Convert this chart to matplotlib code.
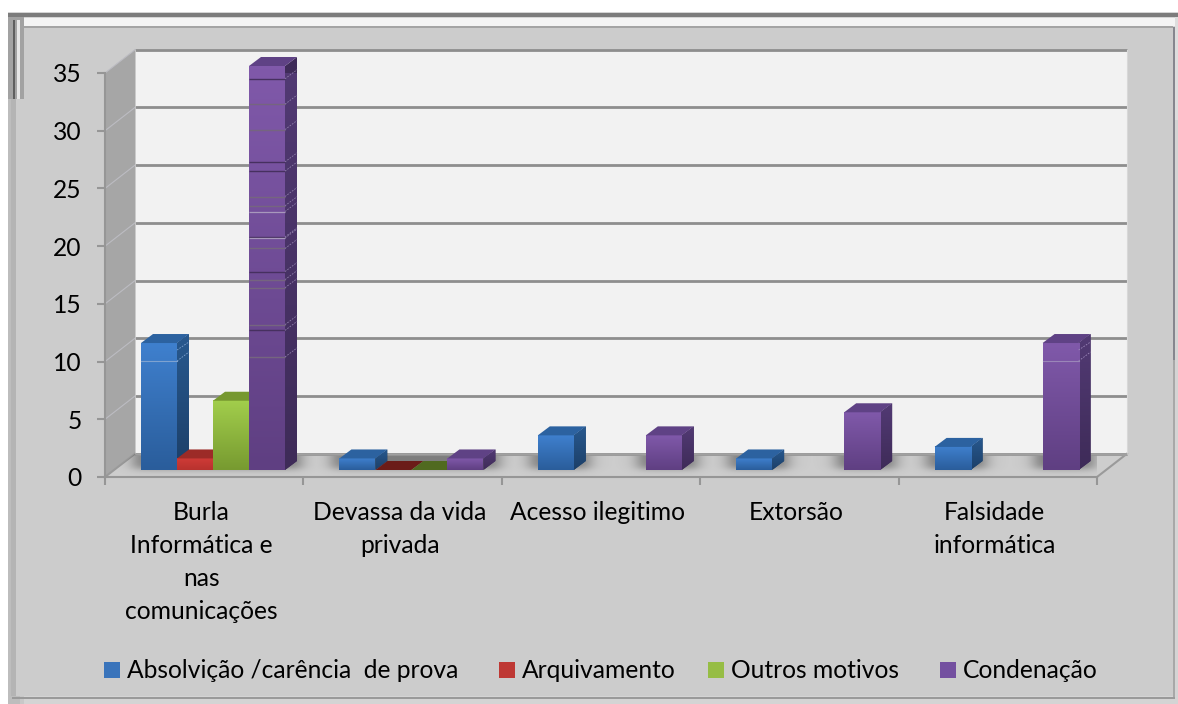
import numpy as np
import matplotlib
matplotlib.use("Agg")
import matplotlib.pyplot as plt
from matplotlib.colors import to_rgb, LinearSegmentedColormap
from matplotlib.patches import Rectangle, Patch
from matplotlib.transforms import ScaledTranslation

# ---------- data ----------
categories = ["Burla\nInformática e\nnas\ncomunicações", "Devassa da vida\nprivada",
              "Acesso ilegitimo", "Extorsão", "Falsidade\ninformática"]
absolvicao = [11, 1, 3, 1, 2]
arquivamento = [1, 0, np.nan, np.nan, np.nan]
outros = [6, 0, np.nan, np.nan, np.nan]
condenacao = [35, 1, 3, 5, 11]
series_names = ["Absolvição /carência  de prova", "Arquivamento", "Outros motivos", "Condenação"]
y_ticks = [0, 5, 10, 15, 20, 25, 30, 35]
# scan artefacts seen across the tall purple bar (value units)
purple_dark = [34.5, 27.3, 26.5, 20.8, 17.8, 12.7]
purple_mid = [32.3, 30.1, 24.3, 23.5, 19.8, 17.1, 16.4, 13.2, 10.4]
purple_light = [23.0, 20.7]

# ---------- style ----------
W, H = 1178, 704
PX = 198.4            # pixels per category
PY = 11.54            # pixels per unit
FONT = "Lato"
FS = 17.7
plt.rcParams["font.family"] = [FONT, "DejaVu Sans"]
styles = [
    dict(front=("#3f80ce", "#2a5d9b"), side=("#28598f", "#1c3f68"), top="#2c62a0", zero="#2c62a0", key="#3a74bb"),
    dict(front=("#cf3b37", "#b8322e"), side=("#8a2522", "#7a1f1c"), top="#9c2b27", zero="#6b1c18", key="#be3834"),
    dict(front=("#a2ce4c", "#779a30"), side=("#6f8f2c", "#5c7a24"), top="#76982f", zero="#506a20", key="#96bd45"),
    dict(front=("#8059aa", "#5f3f82"), side=("#523a74", "#3e2b58"), top="#5f4285", zero="#5f4285", key="#7450a0"),
]
LINE = "#8e8e8e"

fig = plt.figure(figsize=(W / 100, H / 100), dpi=100, facecolor="white")


def frame_rect(x0, y0, x1, y1, color):
    fig.add_artist(Rectangle((x0 / W, 1 - y1 / H), (x1 - x0) / W, (y1 - y0) / H,
                             transform=fig.transFigure, facecolor=color, edgecolor="none", zorder=-10))


# bevelled picture frame
frame_rect(8, 12, 1178, 704, "#d4d4d4")
frame_rect(8, 13, 1178, 17, "#7c7c7c")
frame_rect(8, 18, 1178, 26, "#f4f4f4")
frame_rect(8, 17, 24, 99, "#a2a2a2")
frame_rect(13, 20, 15, 99, "#5e5e5e")
frame_rect(17, 20, 20, 99, "#e6e6e6")
frame_rect(8, 99, 20, 704, "#bdbdbd")
frame_rect(20, 99, 24, 704, "#c8c8c8")
frame_rect(24, 27, 1173, 696, "#cccccc")
frame_rect(16, 99, 1173, 696, "#cccccc")
frame_rect(11, 99, 16, 696, "#b4b4b4")
frame_rect(24, 26, 1173, 28, "#a4a4a4")
frame_rect(1173, 27, 1175, 697, "#a8a8a8")
frame_rect(1173, 27, 1175, 360, "#86868e")
frame_rect(1175, 17, 1178, 120, "#dddddd")
frame_rect(12, 697, 1175, 699, "#9a9a9a")

ax = fig.add_axes([105 / W, 1 - 477 / H, 992 / W, 404 / H])
ax.patch.set_visible(False)
DX, DY = 30 / PX, 23.3 / PY   # wall depth in data units
BASE = 7 / PY                 # bars stand in the middle of the floor
BW = 36.0 / PX
SX, SY = 12 / PX, 9 / PY      # bar depth
X0 = 36 / PX
n = len(categories)
z = [5]


def nz():
    z[0] += 0.01
    return z[0]


def grad(col_top, col_bot):
    return LinearSegmentedColormap.from_list("g", [to_rgb(col_top), to_rgb(col_bot)])


def grad_poly(xs, ys, cols):
    p = ax.fill(xs, ys, color=cols[1], lw=0, zorder=nz(), clip_on=False)[0]
    im = ax.imshow(np.linspace(0, 1, 128)[:, None], cmap=grad(*cols), aspect="auto",
                   extent=(min(xs), max(xs), min(ys), max(ys)), zorder=nz(), interpolation="bilinear")
    im.set_clip_path(p)
    im.set_clip_box(None)


# walls and floor
ax.fill([0, DX, DX, 0], [0, DY, 35 + DY, 35], color="#a6a6a6", lw=0, zorder=1, clip_on=False)
ax.fill([DX, n + DX, n + DX, DX], [DY, DY, 35 + DY, 35 + DY], color="#f2f2f2", lw=0, zorder=1, clip_on=False)
ax.fill([0, n, n + DX, DX], [0, 0, DY, DY], facecolor="#cdcdcd", edgecolor="none", zorder=2, clip_on=False)
floor_clip = ax.fill([0, n, n + DX, DX], [0, 0, DY, DY], facecolor="none", edgecolor="none", zorder=2, clip_on=False)[0]
for t in y_ticks:
    ax.plot([DX, n + DX], [t + DY, t + DY], color=LINE, lw=2.0, zorder=2.5, clip_on=False, solid_capstyle="butt")
    lw = 1.5 if t == 0 else 0.8
    col = "#9a9a9a" if t == 0 else "#bcbcc2"
    ax.plot([0, DX], [t, t + DY], color=col, lw=lw, zorder=2.5, clip_on=False)
ax.plot([n, n + DX], [0, DY], color="#9a9a9a", lw=1.5, zorder=2.5, clip_on=False)
ax.plot([n + DX, n + DX], [DY, 35 + DY], color="#d8d8d8", lw=0.8, zorder=2.5, clip_on=False)
ax.plot([DX, DX], [DY, 35 + DY], color="#c4c4c4", lw=0.6, zorder=2.5, clip_on=False)

# soft floor shadows, one per run of neighbouring bars
all_series = [absolvicao, arquivamento, outros, condenacao]
gx = np.linspace(0, n + DX, 1100)
gy = np.linspace(0, DY, 30)
XX, YY = np.meshgrid(gx, gy)
shade = np.zeros_like(XX)
for i in range(n):
    j = 0
    while j < 4:
        if np.isnan(all_series[j][i]):
            j += 1
            continue
        k = j
        while k + 1 < 4 and not np.isnan(all_series[k + 1][i]):
            k += 1
        a = i + X0 + j * BW - 8 / PX
        b = i + X0 + (k + 1) * BW + 16 / PX
        sh = 9 / PX
        fx = 0.5 * (np.tanh((XX - a) / sh) - np.tanh((XX - b) / sh))
        fy = 0.5 * (np.tanh((YY - 8 / PY) / (4 / PY)) - np.tanh((YY - 1.3 * DY) / (5 / PY)))
        shade = np.maximum(shade, fx * fy)
        j = k + 1
rgba = np.zeros(XX.shape + (4,))
rgba[..., :3] = 0.3
rgba[..., 3] = 0.62 * shade
sh_im = ax.imshow(rgba, origin="lower", aspect="auto", extent=(0, n + DX, 0, DY), zorder=3, interpolation="bilinear")
sh_im.set_clip_path(floor_clip)
sh_im.set_clip_box(None)
ax.plot([DX, n + DX], [DY, DY], color="#a0a0a0", lw=1.8, zorder=3.5, clip_on=False, solid_capstyle="butt")

# bars: left to right so that each bar hides the flank of the previous one
for i in range(n):
    for j, (vals, st) in enumerate(zip(all_series, styles)):
        v = vals[i]
        if np.isnan(v):
            continue
        x = i + X0 + j * BW
        t = BASE + v
        if v > 0:
            grad_poly([x + BW, x + BW + SX, x + BW + SX, x + BW], [BASE, BASE + SY, t + SY, t],
                      (st["side"][0], st["side"][1]))
        bar = ax.bar(x, v, width=BW, bottom=BASE, align="edge", color=st["front"][1], lw=0, zorder=nz(), clip_on=False)[0]
        if v > 0:
            im = ax.imshow(np.linspace(0, 1, 128)[:, None], cmap=grad(st["front"][0], st["front"][1]), aspect="auto",
                           extent=(x, x + BW, BASE, t), zorder=nz(), interpolation="bilinear")
            im.set_clip_on(False)
        ax.fill([x, x + BW, x + BW + SX, x + SX], [t, t, t + SY, t + SY], color=st["top"] if v > 0 else st["zero"],
                lw=0, zorder=nz(), clip_on=False)
        if j == 3 and v == 35:
            z_art = nz()
            for vals_art, c, lw in [(purple_dark, "#46305f", 1.0), (purple_mid, "#75657f", 1.0), (purple_light, "#a898bc", 0.9)]:
                for a in vals_art:
                    ax.plot([x, x + BW], [a, a], color=c, lw=lw, zorder=z_art, clip_on=False, solid_capstyle="butt")
                    ax.plot([x + BW, x + BW + SX], [a, a + SY], color="#8f7fab", lw=0.6, ls=(0, (2, 1.5)), zorder=z_art, clip_on=False)
        if v == 11:
            z_art = nz()
            c = "#7ea2d0" if j == 0 else "#9a86b8"
            ax.plot([x, x + BW], [10.05, 10.05], color=c, lw=0.8, zorder=z_art, clip_on=False)
            ax.plot([x + BW, x + BW + SX], [10.05, 10.05 + SY], color=c, lw=0.6, ls=(0, (2, 1.5)), zorder=z_art, clip_on=False)
            ax.plot([x + BW, x + BW + SX], [11.0, 11.0 + SY * .9], color=c, lw=0.6, ls=(0, (2, 1.5)), zorder=z_art, clip_on=False)

# axes
ax.set_xlim(0, n)
ax.set_ylim(0, 35)
for s in ("top", "right"):
    ax.spines[s].set_visible(False)
for s in ("left", "bottom"):
    ax.spines[s].set_color("#969696")
    ax.spines[s].set_linewidth(1.5)
    ax.spines[s].set_zorder(2.6)
ax.set_yticks(y_ticks)
ax.set_xticks(range(n + 1))
ax.set_xticklabels([])
ax.set_xticks(np.arange(n) + 0.5, categories, minor=True)
ax.tick_params(axis="y", length=5.8, width=1.5, color="#969696", pad=11, labelsize=FS, labelcolor="black")
ax.tick_params(axis="x", which="major", length=5.8, width=1.5, color="#969696")
ax.tick_params(axis="x", which="minor", length=0, pad=17, labelsize=FS, labelcolor="black")
shift = ScaledTranslation(-3 / 100, 0, fig.dpi_scale_trans)
for lab in ax.get_xticklabels(minor=True):
    lab.set_linespacing(1.54)
    lab.set_verticalalignment("top")
    lab.set_transform(lab.get_transform() + shift)

handles = [Patch(facecolor=s["key"], edgecolor="none") for s in styles]
for idx, x_px in (((0, 1), 104), ((2, 3), 708)):
    fig.legend([handles[q] for q in idx], [series_names[q] for q in idx], ncols=2, loc="center left",
               bbox_to_anchor=(x_px / W, 1 - 671 / H), frameon=False, fontsize=FS, handlelength=0.65,
               handleheight=0.65, handletextpad=0.28, columnspacing=1.67, labelcolor="black",
               borderpad=0, borderaxespad=0)

fig.savefig("out.png", dpi=100, facecolor="white")
